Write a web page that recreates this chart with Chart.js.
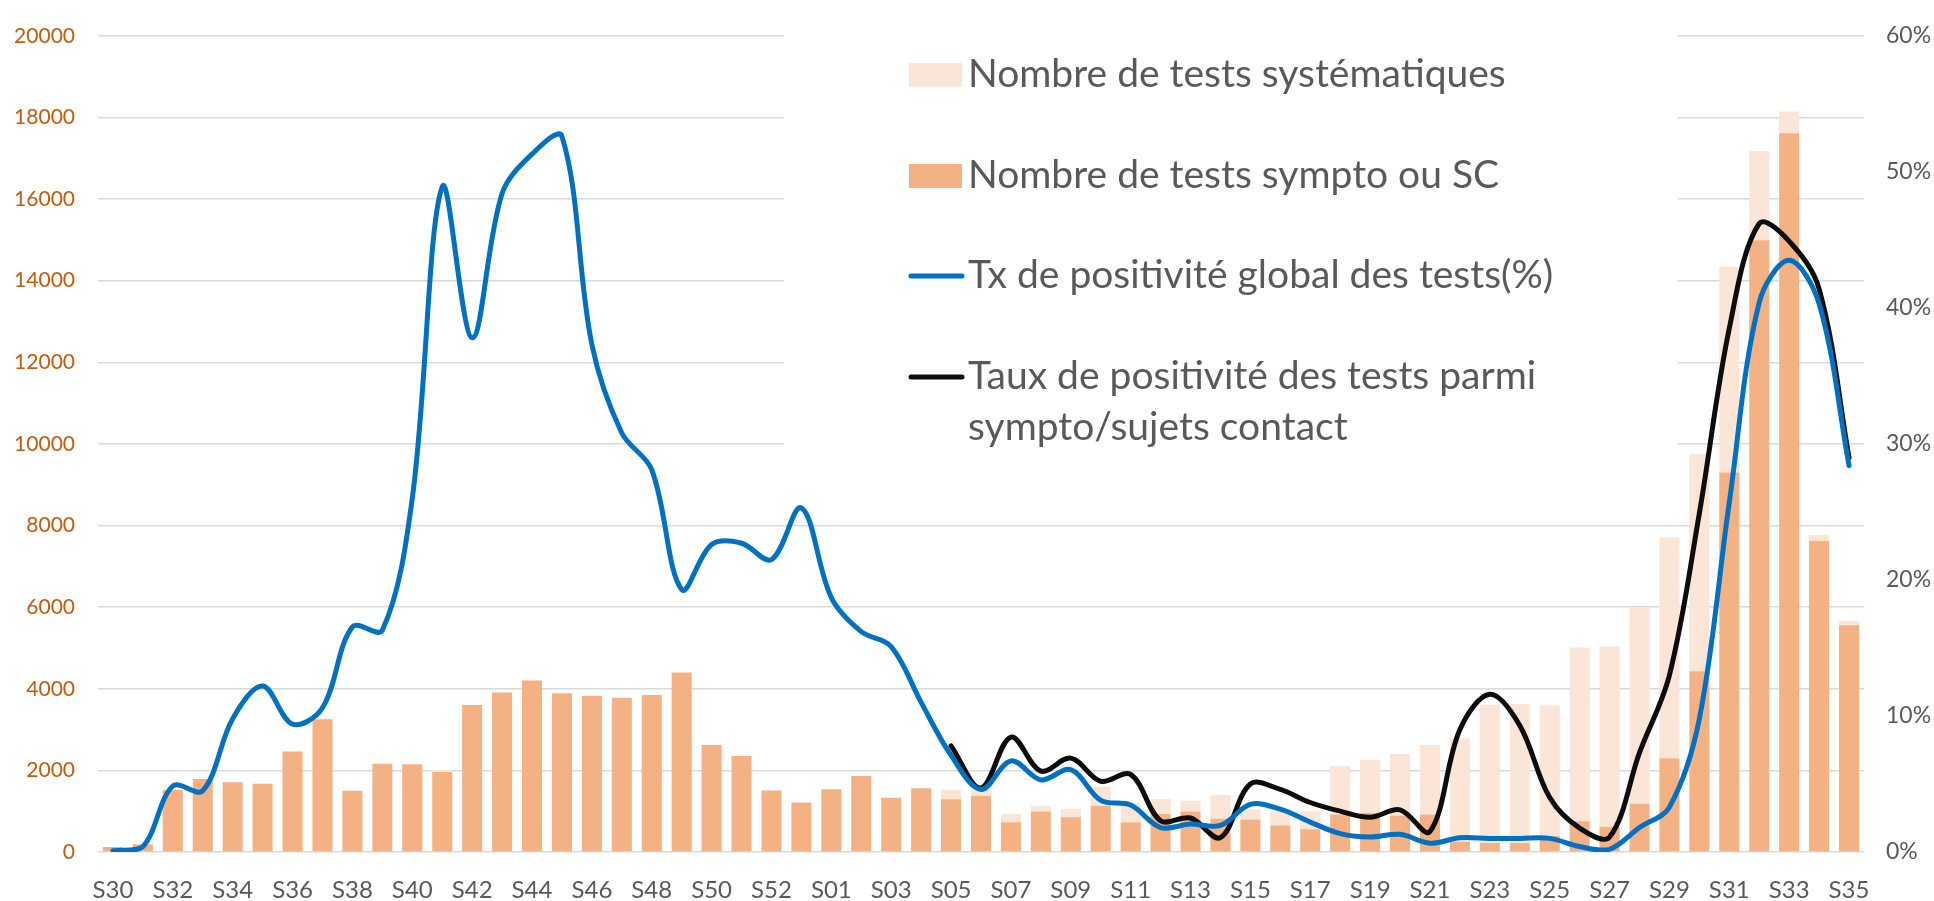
<!DOCTYPE html>
<html>
<head>
<meta charset="utf-8">
<script src="https://cdn.jsdelivr.net/npm/chart.js@4.4.1/dist/chart.umd.min.js"></script>
<style>
  html, body { margin: 0; padding: 0; background: #fff; }
  #wrap { width: 1934px; height: 901px; }
</style>
</head>
<body>
<div id="wrap"><canvas id="chart" width="1934" height="901"></canvas></div>
<script>
  const weeks = ['S30', 'S31', 'S32', 'S33', 'S34', 'S35', 'S36', 'S37', 'S38', 'S39',
    'S40', 'S41', 'S42', 'S43', 'S44', 'S45', 'S46', 'S47', 'S48', 'S49',
    'S50', 'S51', 'S52', 'S53', 'S01', 'S02', 'S03', 'S04', 'S05', 'S06',
    'S07', 'S08', 'S09', 'S10', 'S11', 'S12', 'S13', 'S14', 'S15', 'S16',
    'S17', 'S18', 'S19', 'S20', 'S21', 'S22', 'S23', 'S24', 'S25', 'S26',
    'S27', 'S28', 'S29', 'S30', 'S31', 'S32', 'S33', 'S34', 'S35'];

  // tests sympto / sujets contact (bottom of the stack)
  const sympto = [120, 190, 1520, 1790, 1710, 1670, 2460, 3250, 1500, 2160,
    2150, 1960, 3600, 3910, 4200, 3890, 3830, 3780, 3850, 4400,
    2620, 2350, 1510, 1210, 1540, 1860, 1330, 1565, 1290, 1375,
    730, 995, 850, 1134, 731, 933, 995, 812, 796, 651,
    555, 917, 957, 893, 917, 250, 220, 220, 390, 756,
    611, 1180, 2300, 4430, 9300, 14990, 17615, 7620, 5555];

  // tests systematiques (stacked on top)
  const systematiques = [0, 0, 0, 0, 0, 0, 0, 0, 0, 0,
    0, 50, 0, 0, 0, 0, 0, 0, 0, 0,
    0, 0, 0, 0, 0, 0, 0, 0, 230, 150,
    200, 135, 208, 466, 467, 367, 259, 587, 254, 329,
    440, 1183, 1303, 1507, 1705, 2532, 3385, 3407, 3200, 4254,
    4423, 4820, 5405, 5324, 5040, 2187, 527, 145, 107];

  // taux de positivite global (%)
  const txGlobal = [0.1, 0.4, 4.85, 4.5, 9.8, 12.2, 9.4, 10.6, 16.55, 16.3,
    26.0, 48.9, 37.8, 48.4, 51.3, 52.6, 37.3, 30.8, 28.1, 19.3,
    22.6, 22.7, 21.5, 25.3, 18.7, 16.2, 15.1, 11.0, 7.1, 4.6,
    6.7, 5.3, 6.05, 3.8, 3.45, 1.8, 2.05, 1.95, 3.5, 3.15,
    2.2, 1.35, 1.1, 1.3, 0.65, 1.05, 1.0, 1.0, 1.0, 0.4,
    0.2, 1.8, 3.3, 9.8, 25.7, 40.4, 43.5, 40.3, 28.4];

  // taux de positivite parmi sympto / sujets contact (%), from S05 2021
  const txSympto = [null, null, null, null, null, null, null, null, null, null,
    null, null, null, null, null, null, null, null, null, null,
    null, null, null, null, null, null, null, null, 7.8, 4.7,
    8.45, 5.95, 6.9, 5.2, 5.7, 2.3, 2.5, 1.06, 5.0, 4.6,
    3.64, 3.0, 2.55, 3.1, 1.5, 9.0, 11.6, 9.3, 4.0, 1.75,
    1.1, 7.3, 13.0, 24.9, 38.5, 46.2, 44.9, 41.4, 29.0];

  const leftTicks = { min: 0, max: 20000, step: 2000 };
  const rightTicks = { min: 0, max: 60, step: 10 };

  const legendLabels = [
    'Nombre de tests systématiques',
    'Nombre de tests sympto ou SC',
    'Tx de positivité global des tests(%)',
    ['Taux de positivité des tests parmi', 'sympto/sujets contact'],
  ];

  const colors = {
    light: '#fbe5d6',
    dark: '#f4b183',
    blue: '#0070c0',
    black: '#0d0d0d',
    grid: '#d9d9d9',
    text: '#595959',
    leftText: '#c55a11',
  };
  const FONT = 'Lato, "Liberation Sans", sans-serif';

  // legend drawn inside the plot, on a white box that hides the gridlines
  const boxLegend = {
    id: 'boxLegend',
    afterDatasetsDraw: function (chart) {
      const ctx = chart.ctx;
      ctx.save();
      ctx.fillStyle = '#fff';
      ctx.fillRect(784, 32, 894, 440);

      const swatchX = 909, swatchW = 53, textX = 968;
      const rows = [
        { kind: 'box', color: colors.light, y: 75, base: 87 },
        { kind: 'box', color: colors.dark, y: 176, base: 188 },
        { kind: 'line', color: colors.blue, y: 276, base: 288 },
        { kind: 'line', color: colors.black, y: 377, base: 389 },
      ];
      ctx.font = '39px ' + FONT;
      ctx.textBaseline = 'alphabetic';
      ctx.textAlign = 'left';
      rows.forEach(function (r, i) {
        if (r.kind === 'box') {
          ctx.fillStyle = r.color;
          ctx.fillRect(swatchX, r.y - 12, swatchW, 24);
        } else {
          ctx.strokeStyle = r.color;
          ctx.lineWidth = 5;
          ctx.lineCap = 'round';
          ctx.beginPath();
          ctx.moveTo(swatchX + 2, r.y);
          ctx.lineTo(swatchX + swatchW, r.y);
          ctx.stroke();
        }
        ctx.fillStyle = colors.text;
        const lines = [].concat(legendLabels[i]);
        lines.forEach(function (t, k) {
          ctx.fillText(t, textX, r.base + k * 51);
        });
      });
      ctx.restore();
    },
  };

  new Chart(document.getElementById('chart'), {
    type: 'bar',
    data: {
      labels: weeks,
      datasets: [
        {
          type: 'line', label: legendLabels[2], data: txGlobal, yAxisID: 'y1',
          borderColor: colors.blue, borderWidth: 5, pointRadius: 0, tension: 0.35,
          borderCapStyle: 'round', borderJoinStyle: 'round', order: 0,
        },
        {
          type: 'line', label: legendLabels[3].join(' '), data: txSympto, yAxisID: 'y1',
          borderColor: colors.black, borderWidth: 5, pointRadius: 0, tension: 0.35,
          borderCapStyle: 'round', borderJoinStyle: 'round', order: 0,
        },
        {
          label: legendLabels[1], data: sympto, yAxisID: 'y', stack: 'tests',
          backgroundColor: colors.dark, barPercentage: 0.67, categoryPercentage: 1, order: 1,
        },
        {
          label: legendLabels[0], data: systematiques, yAxisID: 'y', stack: 'tests',
          backgroundColor: colors.light, barPercentage: 0.67, categoryPercentage: 1, order: 1,
        },
      ],
    },
    options: {
      responsive: false,
      animation: false,
      devicePixelRatio: 1,
      layout: { padding: { top: 23, left: 0, right: 0, bottom: 0 } },
      plugins: { legend: { display: false }, tooltip: { enabled: false } },
      scales: {
        x: {
          stacked: true,
          grid: { display: false },
          border: { display: false },
          ticks: {
            autoSkip: false, maxRotation: 0, padding: 16,
            color: colors.text, font: { family: FONT, size: 24 },
            callback: function (v, i) { return i % 2 === 0 ? weeks[i] : ''; },
          },
          afterFit: function (s) { s.width; s.height = 49; },
        },
        y: {
          stacked: true,
          position: 'left',
          min: leftTicks.min, max: leftTicks.max,
          grid: { color: colors.grid, lineWidth: 1.5, drawTicks: false },
          border: { display: false },
          ticks: {
            stepSize: leftTicks.step, padding: 23,
            color: colors.leftText, font: { family: FONT, size: 21 },
            callback: function (v) { return String(v); },
          },
          afterFit: function (s) { s.width = 98; },
        },
        y1: {
          position: 'right',
          min: rightTicks.min, max: rightTicks.max,
          grid: { drawOnChartArea: false, drawTicks: false },
          border: { display: false },
          ticks: {
            stepSize: rightTicks.step, padding: 22,
            color: colors.text, font: { family: FONT, size: 23 },
            callback: function (v) { return v + '%'; },
          },
          afterFit: function (s) { s.width = 70; },
        },
      },
    },
    plugins: [boxLegend],
  });
</script>
</body>
</html>
